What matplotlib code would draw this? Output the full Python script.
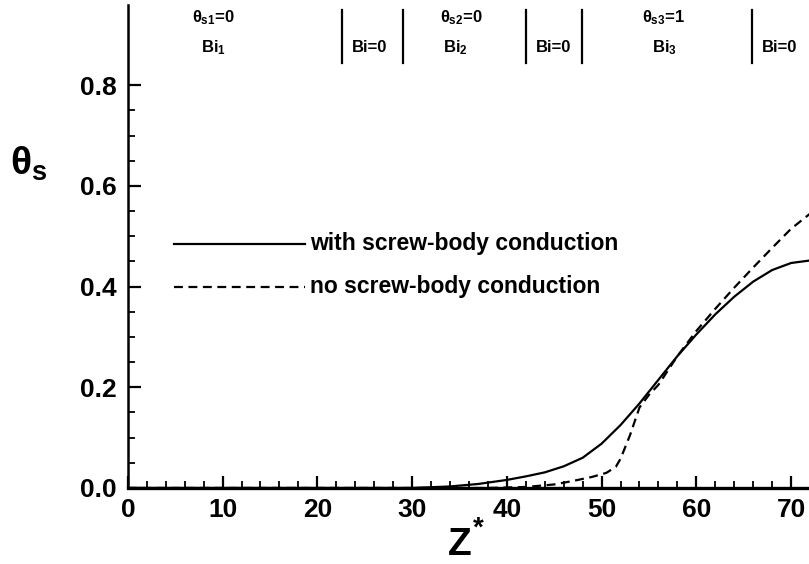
import matplotlib
matplotlib.use("Agg")
from matplotlib import pyplot as plt
from matplotlib.ticker import FixedLocator, FormatStrFormatter

plt.rcParams['font.family'] = ['Liberation Sans', 'DejaVu Sans']
plt.rcParams['font.weight'] = 'bold'
plt.rcParams['mathtext.fontset'] = 'custom'
plt.rcParams['mathtext.rm'] = 'Liberation Sans:bold'
plt.rcParams['mathtext.it'] = 'Liberation Sans:bold'
plt.rcParams['mathtext.bf'] = 'Liberation Sans:bold'

# surface temperature along the screw, with / without conduction in the screw body
z_with = [0, 30, 34, 37, 40, 42, 44, 46, 48, 50, 52, 54, 56, 58, 60, 62, 64, 66, 68, 70, 72, 75]
theta_with = [0.0, 0.0, 0.003, 0.008, 0.016, 0.023, 0.031, 0.043, 0.060, 0.088, 0.125, 0.168,
              0.215, 0.262, 0.305, 0.345, 0.380, 0.410, 0.433, 0.447, 0.452, 0.455]

z_no = [0, 38, 42, 45, 47, 49, 50.5, 51.5, 52, 53, 54, 55, 56, 58, 60, 62, 64, 66, 68, 70, 72, 75]
theta_no = [0.0, 0.0, 0.002, 0.007, 0.014, 0.022, 0.030, 0.042, 0.058, 0.105, 0.160, 0.185,
            0.205, 0.262, 0.312, 0.356, 0.398, 0.438, 0.477, 0.515, 0.545, 0.590]

# zone boundaries and labels along the top
zone_edges = [22.6, 29.0, 42.0, 47.9, 65.9]
bc_labels = [r'$\theta_{s1}$=0', r'$\theta_{s2}$=0', r'$\theta_{s3}$=1']
bc_pos = [9.0, 35.2, 56.5]
bi_labels = [r'Bi$_1$', r'Bi$_2$', r'Bi$_3$']
bi_pos = [9.0, 34.6, 56.6]
bi0_pos = [25.5, 44.9, 68.8]

fig = plt.figure(figsize=(8.09, 5.64), dpi=100)
ax = fig.add_axes([0.158, 0.1348, 0.937, 0.8567])

ax.plot(z_with, theta_with, color='black', lw=1.6, label='with screw-body conduction')
ax.plot(z_no, theta_no, color='black', lw=1.6, dashes=(4, 2.5), label='no screw-body conduction')

# legend drawn as sample segments next to the text
ax.plot([4.9, 18.7], [0.485, 0.485], color='black', lw=1.6)
ax.plot([4.9, 18.7], [0.40, 0.40], color='black', lw=1.6, dashes=(4, 2.5))
ax.text(19.2, 0.485, 'with screw-body conduction', fontsize=16.5, va='center', ha='left')
ax.text(19.2, 0.40, 'no screw-body conduction', fontsize=16.5, va='center', ha='left')

for xe in zone_edges:
    ax.plot([xe, xe], [0.845, 0.95], color='black', lw=1.6)
for lab, xp in zip(bc_labels, bc_pos):
    ax.text(xp, 0.935, lab, fontsize=12, ha='center', va='center')
for lab, xp in zip(bi_labels, bi_pos):
    ax.text(xp, 0.875, lab, fontsize=12, ha='center', va='center')
for xp in bi0_pos:
    ax.text(xp, 0.875, 'Bi=0', fontsize=12, ha='center', va='center')

ax.set_xlim(0, 80)
ax.set_ylim(0, 0.96)
ax.spines['top'].set_visible(False)
ax.spines['right'].set_visible(False)
ax.spines['bottom'].set_linewidth(2.4)
ax.spines['left'].set_linewidth(1.8)

ax.xaxis.set_major_locator(FixedLocator([0, 10, 20, 30, 40, 50, 60, 70]))
ax.xaxis.set_minor_locator(FixedLocator([v for v in range(0, 81, 2)]))
ax.yaxis.set_major_locator(FixedLocator([0.0, 0.2, 0.4, 0.6, 0.8]))
ax.yaxis.set_minor_locator(FixedLocator([i * 0.05 for i in range(17)]))
ax.yaxis.set_major_formatter(FormatStrFormatter('%.1f'))
ax.tick_params(which='major', direction='in', length=9, width=1.6, labelsize=19)
ax.tick_params(axis='x', which='major', pad=7)
ax.tick_params(axis='y', which='major', pad=8)
ax.tick_params(which='minor', direction='in', length=5, width=1.3)

fig.text(0.568, 0.002, 'Z', fontsize=28, ha='center', va='bottom')
fig.text(0.591, 0.040, '*', fontsize=20, ha='center', va='bottom')
fig.text(0.012, 0.71, r'$\theta_s$', fontsize=28, ha='left', va='center',
         family='DejaVu Serif')

plt.savefig('out.png', dpi=100)
